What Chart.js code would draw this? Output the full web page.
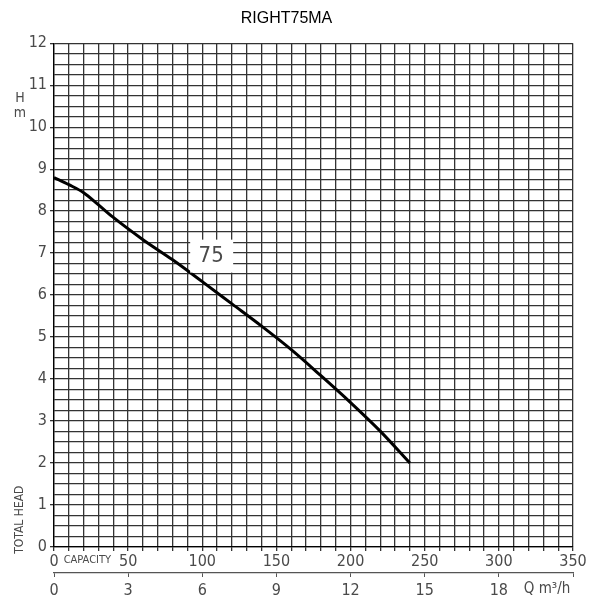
<!DOCTYPE html>
<html lang="en">
<head>
<meta charset="UTF-8">
<title>RIGHT75MA</title>
<script src="https://cdn.jsdelivr.net/npm/chart.js"></script>
<style>
  html, body { margin: 0; padding: 0; background: #fff; }
  #wrap { width: 608px; height: 608px; }
</style>
</head>
<body>
<div id="wrap"><canvas id="curve"></canvas></div>
<script>
// capacity in l/min, total head in m
var capacity = [0, 10, 20, 30, 40, 60, 80, 100, 120, 140, 160, 180, 200, 220, 240];
var head = [8.8, 8.63, 8.44, 8.15, 7.85, 7.32, 6.84, 6.32, 5.79, 5.26, 4.7, 4.08, 3.44, 2.76, 2.0];
var qLabels = [0, 3, 6, 9, 12, 15, 18]; // m3/h scale under the capacity axis
var curveName = '75';

var FONT = '"Liberation Sans Narrow", "DejaVu Sans Condensed", "Liberation Sans", sans-serif';
var GRID = '#333';
var TXT = '#4a4a4a';

var points = capacity.map(function (q, i) { return { x: q, y: head[i] }; });

// extra texts around the grid
var extraText = {
  id: 'extraText',
  afterDraw: function (chart) {
    var c = chart.ctx, xs = chart.scales.x, ys = chart.scales.y, x2 = chart.scales.x2;
    c.save();
    c.fillStyle = TXT;
    c.textAlign = 'center';
    c.textBaseline = 'middle';

    // curve label with white box
    var lx = xs.getPixelForValue(106), ly = ys.getPixelForValue(6.94);
    c.fillStyle = '#fff';
    c.fillRect(lx - 21, ly - 16, 43, 33);
    c.fillStyle = TXT;
    c.font = '22px ' + FONT;
    c.fillText(curveName, lx, ly + 1);

    c.font = '11px ' + FONT;
    c.fillText('CAPACITY', xs.getPixelForValue(22.5), xs.bottom - 13);

    c.font = '15px ' + FONT;
    c.fillText('Q m\u00b3/h', x2.getPixelForValue(19.95), x2.top + 16);

    c.font = '14px ' + FONT;
    c.fillText('H', 20, ys.getPixelForValue(10.68));
    c.fillText('m', 20, ys.getPixelForValue(10.32));

    c.translate(20, ys.getPixelForValue(0.65));
    c.rotate(-Math.PI / 2);
    c.font = '12px ' + FONT;
    c.fillText('TOTAL HEAD', 0, 0);
    c.restore();
  }
};

var ctx = document.getElementById('curve').getContext('2d');
var chart = new Chart(ctx, {
  type: 'line',
  data: {
    datasets: [{
      label: curveName,
      data: points,
      borderColor: '#000',
      borderWidth: 3,
      pointRadius: 0,
      cubicInterpolationMode: 'monotone',
      fill: false
    }]
  },
  options: {
    responsive: true,
    maintainAspectRatio: false,
    animation: false,
    layout: { padding: { left: 0, right: 35, top: 0, bottom: 0 } },
    plugins: {
      legend: { display: false },
      tooltip: { enabled: false },
      title: {
        display: true,
        text: 'RIGHT75MA',
        color: '#000',
        font: { family: 'Liberation Sans, Arial, sans-serif', size: 16, weight: 'normal' },
        padding: { top: 9, bottom: 15 }
      }
    },
    scales: {
      x: {
        type: 'linear',
        position: 'bottom',
        min: 0,
        max: 350,
        afterFit: function (s) { s.height = 26; },
        border: { display: true, color: '#000', width: 1.3 },
        grid: { color: GRID, lineWidth: 1.3, tickLength: 4, tickColor: GRID },
        ticks: {
          stepSize: 10,
          autoSkip: false,
          maxRotation: 0,
          padding: 1,
          color: TXT,
          font: { family: FONT, size: 16 },
          callback: function (v) { return v % 50 === 0 ? String(v) : ''; }
        }
      },
      x2: {
        type: 'linear',
        position: 'bottom',
        weight: 1,
        min: 0,
        max: 21,
        afterFit: function (s) { s.height = 35; },
        border: { display: true, color: '#555', width: 1.3 },
        grid: { drawOnChartArea: false, tickLength: 4, tickColor: '#555' },
        ticks: {
          stepSize: 3,
          autoSkip: false,
          maxRotation: 0,
          padding: 4,
          color: TXT,
          font: { family: FONT, size: 16 },
          callback: function (v) { return qLabels.indexOf(v) >= 0 ? String(v) : ''; }
        }
      },
      y: {
        type: 'linear',
        min: 0,
        max: 12,
        afterFit: function (s) { s.width = 54; },
        border: { display: true, color: '#000', width: 1.3 },
        grid: {
          color: GRID,
          lineWidth: 1.3,
          tickLength: 4,
          tickColor: function (c) { return c.tick && Number.isInteger(c.tick.value) ? GRID : 'rgba(0,0,0,0)'; }
        },
        ticks: {
          stepSize: 0.25,
          autoSkip: false,
          padding: 3,
          color: TXT,
          font: { family: FONT, size: 16 },
          callback: function (v) { return Number.isInteger(v) ? String(v) : ''; }
        }
      }
    }
  },
  plugins: [extraText]
});
</script>
</body>
</html>
